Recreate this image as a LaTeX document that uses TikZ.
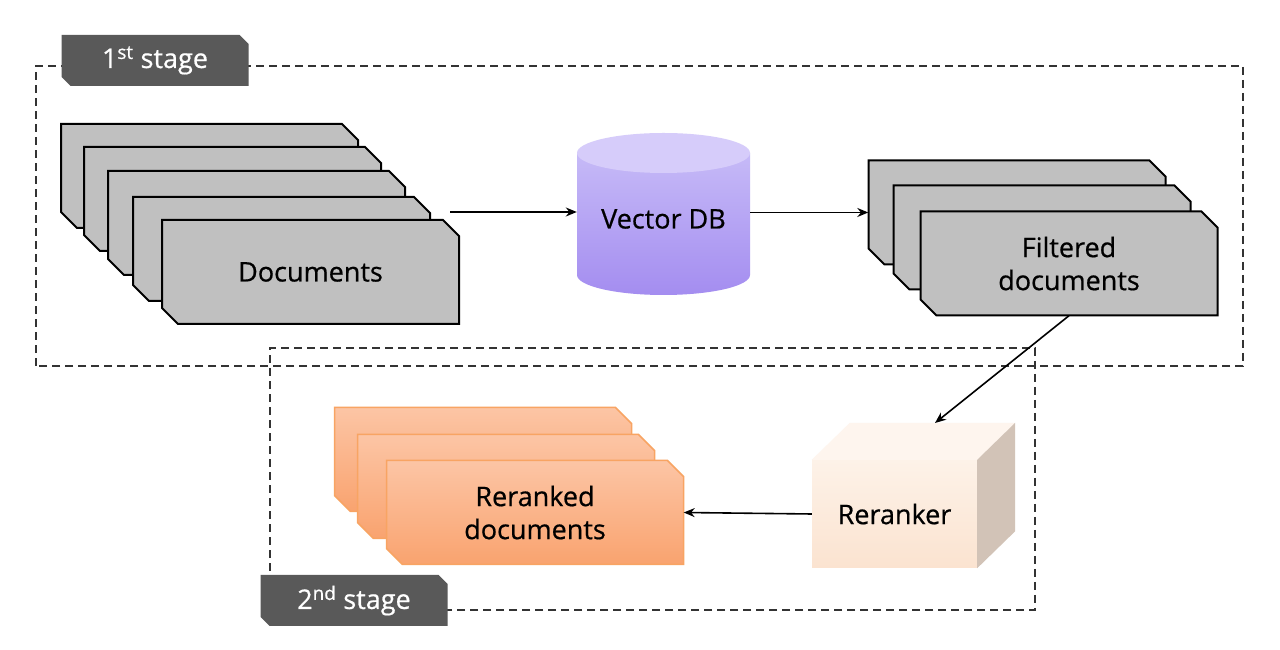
\documentclass[tikz,border=0pt]{standalone}
\usepackage{fontspec}
\setmainfont{Open Sans}[FakeBold=0.6]
\usetikzlibrary{arrows.meta,calc}
\definecolor{cardgray}{HTML}{C0C0C0}
\definecolor{labelgray}{HTML}{595959}
\definecolor{dashgray}{HTML}{333333}
\definecolor{orTop}{HTML}{FCC5A5}
\definecolor{orBot}{HTML}{F9A36F}
\definecolor{orLine}{HTML}{F8A463}
\definecolor{cylTop}{HTML}{C6BAF7}
\definecolor{cylBot}{HTML}{A48DF0}
\definecolor{cylCap}{HTML}{D6CCFA}
\definecolor{cubeTop}{HTML}{FEF5EE}
\definecolor{cubeFrontA}{HTML}{FDF2E8}
\definecolor{cubeFrontB}{HTML}{FBE3D0}
\definecolor{cubeSide}{HTML}{D2C3B7}
% card: name, x, y, outline style, text  (297 x 104, cut 16)
\newcommand\mkcard[5]{%
  \path[#4] (#2-148.5,#3+52) -- (#2+132.5,#3+52) -- (#2+148.5,#3+36)
    -- (#2+148.5,#3-52) -- (#2-132.5,#3-52) -- (#2-148.5,#3-36) -- cycle;
  \node[txt, minimum width=297pt, minimum height=104pt, inner sep=0pt] (#1) at (#2,#3) {#5};}
% stage label: name, x, y, text  (187 x 51, cut 9)
\newcommand\mklabel[4]{%
  \fill[labelgray] (#2-93.5,#3+25.5) -- (#2+84.5,#3+25.5) -- (#2+93.5,#3+16.5)
    -- (#2+93.5,#3-25.5) -- (#2-84.5,#3-25.5) -- (#2-93.5,#3-16.5) -- cycle;
  \node[stagetext, minimum width=187pt, minimum height=51pt, inner sep=0pt] (#1) at (#2,#3) {#4};}
\begin{document}
\begin{tikzpicture}[x=1pt,y=1pt,
  txt/.style={font=\fontsize{27}{33}\selectfont, align=center, text=black},
  gcard/.style={draw=black, line width=2pt, fill=cardgray, line join=miter},
  ocard/.style={draw=orLine, line width=1.5pt, top color=orTop, bottom color=orBot},
  stagebox/.style={dash pattern=on 8pt off 5pt, draw=dashgray, line width=1.6pt},
  stagetext/.style={text=white, font=\fontsize{27}{30}\selectfont},
  conn/.style={line width=1.6pt, -{Stealth[length=11pt,width=9pt]}}
]
\useasboundingbox (0,0) rectangle (1280,650);
\fill[white] (0,0) rectangle (1280,650);

% stage frames
\draw[stagebox] (36,284) rectangle (1243,584);
\draw[stagebox] (270,40) rectangle (1035,302);

% documents stack
\mkcard{d1}{209.5}{474}{gcard}{}
\mkcard{d2}{232.5}{451}{gcard}{}
\mkcard{d3}{256.5}{427}{gcard}{}
\mkcard{d4}{281.5}{401}{gcard}{}
\mkcard{d5}{310.5}{378}{gcard}{Documents}

% vector DB cylinder
\shade[top color=cylTop, bottom color=cylBot]
  (577,497) -- (577,375) arc[start angle=180, end angle=360, x radius=86.5, y radius=20]
  -- (750,497) -- cycle;
\fill[cylCap] (663.5,497) ellipse[x radius=86.5, y radius=20];
\node[txt, minimum width=173pt, inner sep=0pt] (vdb) at (663.5,431) {Vector DB};

% filtered documents
\mkcard{f1}{1017}{437.5}{gcard}{}
\mkcard{f2}{1042}{412.5}{gcard}{}
\mkcard{f3}{1069}{386.5}{gcard}{Filtered\\documents}

% reranked documents
\mkcard{r1}{483}{190.5}{ocard}{}
\mkcard{r2}{506}{163.5}{ocard}{}
\mkcard{r3}{535}{137.5}{ocard}{Reranked\\documents}

% reranker cube
\node[txt, minimum width=165pt, minimum height=108pt, inner sep=0pt,
      top color=cubeFrontA, bottom color=cubeFrontB] (rr) at (894.5,136) {Reranker};
\fill[cubeTop] (rr.north west) -- ++(38,37) -- ($(rr.north east)+(38,37)$) -- (rr.north east) -- cycle;
\fill[cubeSide] (rr.north east) -- ++(38,37) -- ($(rr.south east)+(38,37)$) -- (rr.south east) -- cycle;
\coordinate (rrtop) at (935,227);

% connectors
\coordinate (dstart) at (450,438);
\draw[conn] (dstart) -- (dstart -| vdb.west);
\draw[conn] (vdb.east |- f1.west) -- (f1.west);
\draw[conn] (f3.south) -- (rrtop);
\draw[conn] (rr.west) -- (r3.east);

% stage labels
\mklabel{s1}{155}{589.5}{1\textsuperscript{st} stage}
\mklabel{s2}{354}{49.5}{2\textsuperscript{nd} stage}
\end{tikzpicture}
\end{document}
